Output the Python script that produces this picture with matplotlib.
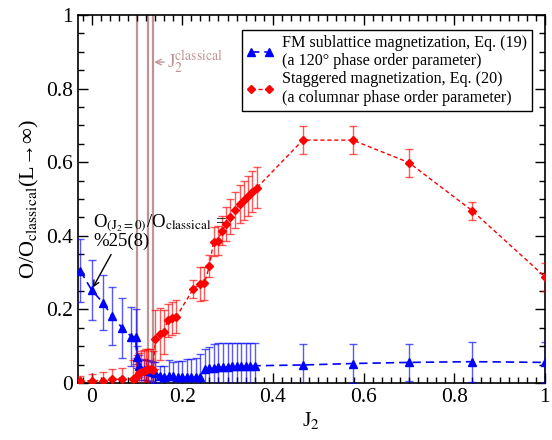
import numpy as np
import matplotlib
matplotlib.use('Agg')
import matplotlib.pyplot as plt
from matplotlib.lines import Line2D
from matplotlib.ticker import MultipleLocator, FuncFormatter

plt.rcParams['font.family'] = 'serif'
plt.rcParams['font.serif'] = ['Liberation Serif', 'DejaVu Serif']
plt.rcParams['mathtext.fontset'] = 'stix'

# FM sublattice magnetization (120 degree order parameter)
fm_j2 = [-0.025, 0.0, 0.025, 0.045, 0.068, 0.088, 0.097,
         0.10, 0.105, 0.11, 0.115, 0.12, 0.125, 0.13, 0.135, 0.14,
         0.15, 0.16, 0.17, 0.18, 0.19, 0.20, 0.21, 0.22, 0.23, 0.24,
         0.25, 0.26, 0.27, 0.28, 0.29, 0.30, 0.31, 0.32, 0.33, 0.34, 0.35, 0.36,
         0.466, 0.576, 0.70, 0.84, 1.0]
fm_val = [0.305, 0.253, 0.218, 0.182, 0.149, 0.126, 0.126,
          0.07, 0.045, 0.035, 0.036, 0.035, 0.034, 0.033, 0.030, 0.028,
          0.018, 0.017, 0.018, 0.018, 0.017, 0.016, 0.016, 0.016, 0.016, 0.016,
          0.037, 0.040, 0.042, 0.043, 0.044, 0.044, 0.045, 0.045, 0.046, 0.046, 0.047, 0.047,
          0.049, 0.053, 0.056, 0.058, 0.056]
fm_err = [0.086, 0.081, 0.075, 0.08, 0.082, 0.081, 0.075,
          0.03, 0.03, 0.028, 0.028, 0.028, 0.028, 0.028, 0.028, 0.028,
          0.028, 0.03, 0.045, 0.04, 0.042, 0.045, 0.048, 0.05, 0.052, 0.062,
          0.055, 0.058, 0.065, 0.065, 0.064, 0.064, 0.063, 0.063, 0.062, 0.062, 0.061, 0.061,
          0.057, 0.054, 0.05, 0.054, 0.056]

# staggered magnetization (columnar order parameter)
st_j2 = [-0.025, 0.0, 0.025, 0.045, 0.068,
         0.092, 0.097, 0.10, 0.105, 0.11, 0.115, 0.12, 0.125, 0.13, 0.135,
         0.141, 0.15, 0.159, 0.168, 0.178, 0.187,
         0.224, 0.24, 0.249, 0.26, 0.269, 0.278, 0.288, 0.297, 0.306,
         0.317, 0.327, 0.336, 0.344, 0.354, 0.365,
         0.466, 0.576, 0.70, 0.84, 1.0]
st_val = [0.006, 0.006, 0.006, 0.01, 0.01,
          0.012, 0.015, 0.02, 0.026, 0.03, 0.033, 0.036, 0.038, 0.038, 0.036,
          0.119, 0.133, 0.139, 0.171, 0.176, 0.18,
          0.255, 0.269, 0.271, 0.318, 0.384, 0.387, 0.414, 0.432, 0.452,
          0.47, 0.486, 0.497, 0.508, 0.52, 0.531,
          0.66, 0.66, 0.599, 0.468, 0.289]
st_err = [0.012, 0.018, 0.025, 0.028, 0.03,
          0.05, 0.052, 0.055, 0.056, 0.058, 0.058, 0.056, 0.055, 0.054, 0.052,
          0.08, 0.07, 0.06, 0.045, 0.045, 0.045,
          0.025, 0.045, 0.045, 0.03, 0.04, 0.04, 0.04, 0.045, 0.048,
          0.05, 0.052, 0.053, 0.054, 0.055, 0.055,
          0.038, 0.038, 0.038, 0.025, 0.038]

# classical transition points
j2_classical = [0.1, 0.125, 0.136]

fm_label = 'FM sublattice magnetization, Eq. (19)\n(a 120\u00b0 phase order parameter)'
st_label = 'Staggered magnetization, Eq. (20)\n(a columnar phase order parameter)'

fig = plt.figure(figsize=(5.52, 4.4), dpi=100)
ax = fig.add_axes([0.1413, 0.1295, 0.8457, 0.8364])

for xc in j2_classical:
    ax.axvline(xc, color='#c09494', lw=1.6, zorder=1)

fm_style = dict(color='blue', ls=(0, (5, 3)), lw=1.2, marker='^', ms=6)
st_style = dict(color='red', ls=(0, (3, 2)), lw=1.0, marker='D', ms=4.5)

ax.errorbar(fm_j2, fm_val, yerr=fm_err, ecolor=(0, 0, 1, 0.65), capsize=3,
            elinewidth=1, capthick=1, zorder=3, **fm_style)
ax.errorbar(st_j2, st_val, yerr=st_err, ecolor=(1, 0, 0, 0.65), capsize=3,
            elinewidth=1, capthick=1, zorder=3, **st_style)

ax.set_xlim(-0.03, 1.0)
ax.set_ylim(0, 1)
ax.xaxis.set_major_locator(MultipleLocator(0.2))
ax.xaxis.set_minor_locator(MultipleLocator(0.02))
ax.yaxis.set_major_locator(MultipleLocator(0.2))
ax.yaxis.set_minor_locator(MultipleLocator(0.05))
fmt = FuncFormatter(lambda v, p: '%g' % round(v, 3))
ax.xaxis.set_major_formatter(fmt)
ax.yaxis.set_major_formatter(fmt)
ax.tick_params(which='both', direction='in', top=True, right=True, labelsize=15.5)
ax.tick_params(which='major', length=7, width=1)
ax.tick_params(which='minor', length=4, width=1)
for s in ax.spines.values():
    s.set_linewidth(1.2)

ax.set_xlabel(r'J$_2$', fontsize=15.5, labelpad=2)
ax.set_ylabel('O/O$_{\\rm classical}$(L\u2192\u221e)', fontsize=16, labelpad=4,
              family=['Liberation Serif', 'DejaVu Serif'])

# legend shows just line + markers, no error bars
handles = [Line2D([], [], **fm_style), Line2D([], [], **st_style)]
leg = ax.legend(handles, [fm_label, st_label], loc='upper right',
                bbox_to_anchor=(0.972, 0.96), fontsize=11.6,
                fancybox=False, edgecolor='black', framealpha=1, borderaxespad=0,
                numpoints=2, handlelength=1.7, handletextpad=0.5,
                labelspacing=0.15, borderpad=0.3)
leg.get_frame().set_linewidth(1.0)

ax.annotate('', xy=(j2_classical[2] - 0.004, 0.872), xytext=(0.166, 0.872),
            arrowprops=dict(arrowstyle='->', color='#c09494', lw=1))
ax.text(0.166, 0.872, r'J$_2^{\rm classical}$', color='#c09494', fontsize=14,
        ha='left', va='center')

ax.annotate('', xy=(0.0, 0.253), xytext=(0.046, 0.356),
            arrowprops=dict(arrowstyle='->', color='black', lw=1))
ax.text(0.003, 0.435, r'O$_{(\mathrm{J}_2=0)}$/O$_{\rm classical}$ =', fontsize=13.5,
        ha='left', va='center')
ax.text(0.003, 0.385, '%25(8)', fontsize=13.5, ha='left', va='center')

fig.savefig('out.png', dpi=100)
